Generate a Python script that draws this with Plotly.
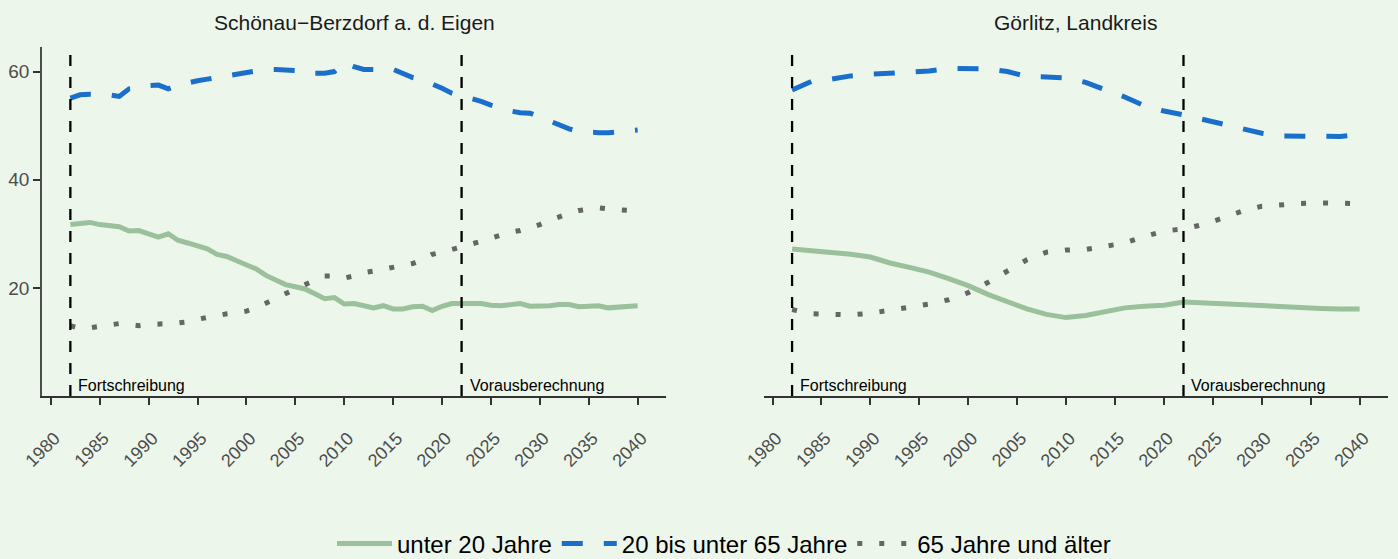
import plotly.graph_objects as go

# ---------------- data ----------------
years_left = list(range(1982, 2041))
left_u20 = [31.7, 32.0, 32.1, 31.7, 31.4, 31.3, 30.5, 30.6, 30.0, 29.4,
            30.0, 28.8, 28.3, 27.7, 27.2, 26.2, 25.8, 25.0, 24.2, 23.5,
            22.3, 21.4, 20.6, 20.2, 19.8, 18.9, 18.0, 18.2, 17.0, 17.1,
            16.7, 16.3, 16.7, 16.1, 16.1, 16.5, 16.6, 15.8, 16.6, 17.1,
            17.1, 17.1, 17.1, 16.8, 16.7, 16.9, 17.1, 16.6, 16.6, 16.7,
            16.9, 16.9, 16.5, 16.6, 16.7, 16.3, 16.5, 16.5, 16.7]
left_20_65 = [55.1, 55.7, 55.8, 55.8, 55.7, 55.4, 56.8, 56.8, 57.4, 57.5,
              56.8, 57.5, 58.0, 58.3, 58.6, 58.9, 59.2, 59.5, 59.8, 60.0,
              60.4, 60.4, 60.4, 60.2, 59.7, 59.7, 59.7, 60.0, 61.7, 60.9,
              60.4, 60.4, 60.6, 60.4, 59.7, 58.9, 58.5, 57.8, 56.9, 56.0,
              55.5, 55.1, 54.5, 53.8, 53.2, 52.7, 52.4, 52.3, 51.6, 50.8,
              50.0, 49.4, 48.9, 48.7, 48.7, 48.7, 48.9, 49.0, 49.2]
left_65 = [13.0, 12.5, 12.6, 12.9, 13.2, 13.4, 13.2, 13.0, 13.2, 13.4,
           13.4, 13.5, 13.7, 14.2, 14.6, 14.9, 15.2, 15.4, 15.7, 16.3,
           17.2, 18.2, 19.1, 19.8, 20.6, 21.4, 22.2, 22.2, 21.8, 22.2,
           22.8, 23.1, 23.4, 23.7, 24.0, 24.5, 25.2, 26.2, 26.6, 27.1,
           27.4, 28.0, 28.6, 29.2, 29.8, 30.3, 30.6, 31.1, 31.7, 32.5,
           33.2, 33.8, 34.3, 34.6, 34.8, 34.6, 34.5, 34.3, 34.2]

years_right = list(range(1982, 2041, 2))
right_u20 = [27.2, 26.9, 26.5, 26.2, 25.7, 24.6, 23.8, 22.9, 21.7, 20.4,
             18.8, 17.4, 16.1, 15.1, 14.5, 14.9, 15.5, 16.3, 16.6, 16.8,
             17.4, 17.2, 17.1, 16.9, 16.8, 16.6, 16.4, 16.2, 16.1, 16.1]
right_20_65 = [56.6, 58.2, 58.6, 59.2, 59.5, 59.7, 59.9, 60.1, 60.6, 60.6,
               60.5, 60.0, 59.1, 59.0, 58.8, 58.0, 56.7, 55.3, 53.7, 52.7,
               52.0, 51.2, 50.3, 49.4, 48.6, 48.1, 48.0, 47.9, 48.0, 48.4]
right_65 = [16.0, 15.2, 15.1, 15.0, 15.3, 15.8, 16.3, 17.0, 17.8, 19.1,
            21.0, 23.1, 25.2, 26.6, 27.0, 27.1, 27.6, 28.3, 29.5, 30.5,
            30.9, 31.7, 32.9, 34.2, 35.1, 35.4, 35.6, 35.7, 35.7, 35.6]

panel_titles = ["Schönau−Berzdorf a. d. Eigen", "Görlitz, Landkreis"]
series_names = ["unter 20 Jahre", "20 bis unter 65 Jahre", "65 Jahre und älter"]
break_years = [1982, 2022]
break_labels = ["Fortschreibung", "Vorausberechnung"]
x_ticks = list(range(1980, 2041, 5))
y_ticks = [20, 40, 60]

# ---------------- style ----------------
BG = "#EDF6EB"
FONT = "Liberation Sans, Arial, Helvetica, sans-serif"
styles = [
    dict(color="#9BC09C", width=5, dash="solid"),
    dict(color="#1A6FCB", width=5, dash="21px,21px"),
    dict(color="#666666", width=5, dash="5px,17px"),
]

fig = go.Figure()
panels = [
    ("x", "y", years_left, [left_u20, left_20_65, left_65]),
    ("x2", "y2", years_right, [right_u20, right_20_65, right_65]),
]
for pi, (xa, ya, yrs, series) in enumerate(panels):
    for si, vals in enumerate(series):
        fig.add_trace(go.Scatter(
            x=yrs, y=vals, mode="lines", name=series_names[si],
            line=styles[si], xaxis=xa, yaxis=ya,
            legendgroup=series_names[si], showlegend=(pi == 0),
        ))

# vertical break lines + labels
for xa in ["x", "x2"]:
    for by, bl in zip(break_years, break_labels):
        fig.add_shape(type="line", xref=xa, yref=("y domain" if xa == "x" else "y2 domain"),
                      x0=by, x1=by, y0=0, y1=1,
                      line=dict(color="black", width=2.3, dash="11px,11px"))
        fig.add_annotation(x=by, y=0, xref=xa, yref=("y" if xa == "x" else "y2"),
                           text=bl, showarrow=False, xanchor="left", yanchor="bottom",
                           xshift=6, yshift=0,
                           font=dict(family=FONT, size=16, color="black"))

xdom1 = [42 / 1398, 666 / 1398]
xdom2 = [763.7 / 1398, 1388 / 1398]
ydom = [1 - 396 / 559, 1 - 46.7 / 559]

for dom, t in zip([xdom1, xdom2], panel_titles):
    fig.add_annotation(x=(dom[0] + dom[1]) / 2, y=1 - 22 / 559, xref="paper", yref="paper",
                       text=t, showarrow=False, xanchor="center", yanchor="middle",
                       font=dict(family=FONT, size=21, color="#1A1A1A"))

xaxis_common = dict(
    range=[1979.1, 2042.9], tickvals=x_ticks, tickangle=-45,
    showline=True, linecolor="#333333", linewidth=1.5,
    ticks="outside", ticklen=7, tickwidth=2, tickcolor="#333333",
    showgrid=False, zeroline=False, automargin=False,
    tickfont=dict(family=FONT, size=18, color="#4D4D4D"),
    ticklabelstandoff=16, ticklabelshift=4,
)
fig.update_layout(
    xaxis=dict(domain=xdom1, anchor="y", **xaxis_common),
    xaxis2=dict(domain=xdom2, anchor="y2", **xaxis_common),
    yaxis=dict(domain=ydom, anchor="x", range=[0, 64.6], tickvals=y_ticks,
               showline=True, linecolor="#4D4D4D", linewidth=1.5,
               ticks="outside", ticklen=7, tickwidth=2, tickcolor="#333333",
               showgrid=False, zeroline=False, automargin=False,
               tickfont=dict(family=FONT, size=19, color="#4D4D4D")),
    yaxis2=dict(domain=ydom, anchor="x2", range=[0, 64.6], matches="y",
                showline=False, showticklabels=False, ticks="",
                showgrid=False, zeroline=False, automargin=False),
    plot_bgcolor=BG, paper_bgcolor=BG,
    width=1398, height=559,
    margin=dict(l=0, r=0, t=0, b=0, autoexpand=False),
    font=dict(family=FONT),
    legend=dict(orientation="h", x=0.5 + 25 / 1398, xanchor="center",
                y=15 / 559, yanchor="middle",
                font=dict(family=FONT, size=24, color="black"),
                itemwidth=55,
                bgcolor="rgba(0,0,0,0)"),
)

fig.write_html(
    "out.html",
    config={"displayModeBar": False},
    post_script="document.body.style.margin='0';document.body.style.padding='0';"
                "document.body.style.background='" + BG + "';",
)
